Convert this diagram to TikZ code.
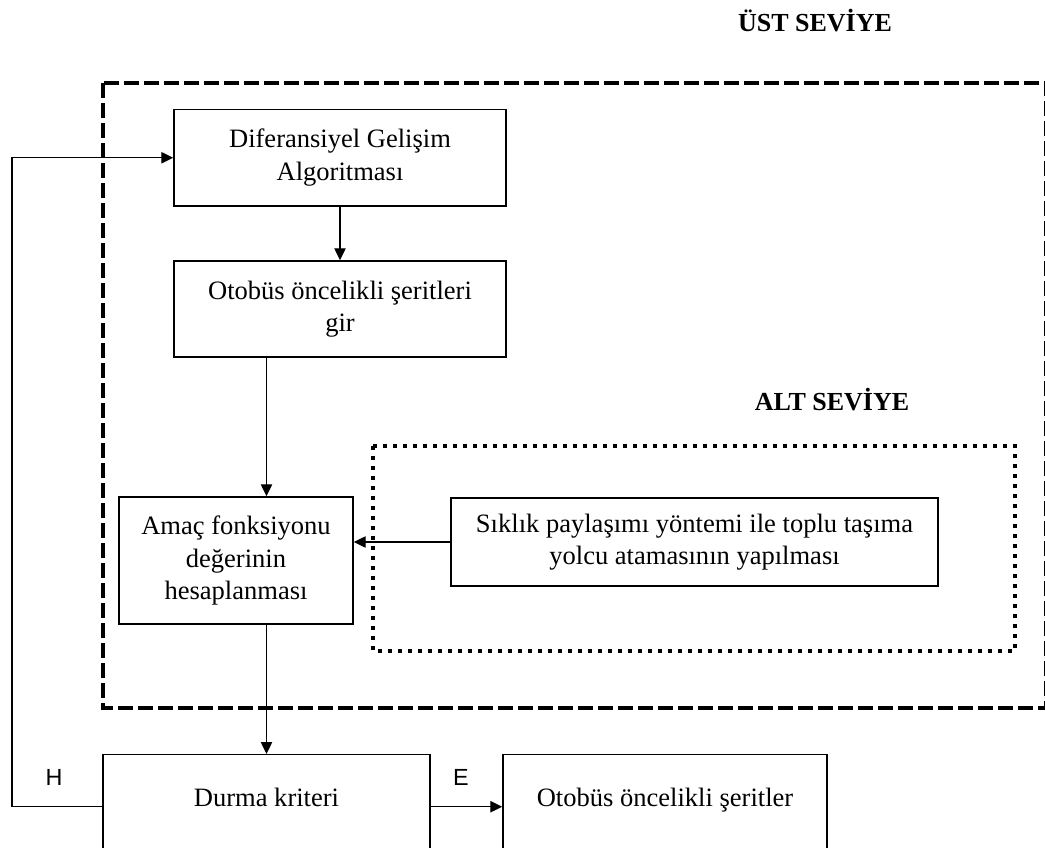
\documentclass[tikz,border=0pt]{standalone}
\usepackage{fontspec}
\setmainfont{Liberation Serif}
\newfontfamily\labelsans{Liberation Sans}
\usetikzlibrary{arrows.meta}
\begin{document}
\begin{tikzpicture}[x=0.75pt,y=-0.75pt,
  bodyfont/.style={font=\fontsize{19.9pt}{24.5pt}\selectfont},
  box/.style={draw, line width=1.1pt, align=center, inner sep=0pt, bodyfont},
  openbox/.style={box, anchor=north, inner ysep=0pt, text height=39pt, text depth=120pt},
  heading/.style={anchor=base, font=\fontsize{19.5pt}{24pt}\selectfont\bfseries},
  branch/.style={anchor=center, font=\fontsize{17.5pt}{21pt}\selectfont\labelsans},
  arr/.style={line width=1pt, -{Triangle[length=9pt,width=8.5pt]}},
  upperframe/.style={line width=3.6pt, dash pattern=on 11.25pt off 3.75pt},
  lowerframe/.style={line width=3.2pt, dash pattern=on 3.2pt off 4.3pt}]
\useasboundingbox (0,0) rectangle (1045,848);
\clip (0,0) rectangle (1045,848);

% level frames
\draw[upperframe] (103,83) rectangle (1046,708);
\draw[lowerframe] (373,446) rectangle (1015,651);
\node[heading] (ust) at (815,32) {ÜST SEVİYE};
\node[heading] (alt) at (832,410) {ALT SEVİYE};

% process boxes
\node[box, minimum width=249pt, minimum height=72.4pt] (de) at (340,157.75)
  {Diferansiyel Gelişim\\Algoritması};
\node[box, minimum width=249pt, minimum height=72pt] (lanes) at (340,309)
  {Otobüs öncelikli şeritleri\\gir};
\node[box, minimum width=175.5pt, minimum height=95.25pt] (obj) at (236,560.5)
  {Amaç fonksiyonu\\değerinin\\hesaplanması};
\node[box, minimum width=365.25pt, minimum height=66pt] (assign) at (694.5,542)
  {Sıklık paylaşımı yöntemi ile toplu taşıma\\yolcu atamasının yapılması};
\node[openbox, minimum width=245.25pt] (stop) at (266.5,754) {Durma kriteri};
\node[openbox, minimum width=243pt] (result) at (665,754) {Otobüs öncelikli şeritler};

% branch labels
\node[branch] (lblH) at (54,777) {H};
\node[branch] (lblE) at (461,777) {E};

% connectors
\coordinate (loopx) at (12,0);
\draw[arr] (de.south) -- (lanes.north);
\draw[arr] (lanes.south -| stop.north) -- (obj.north -| stop.north);
\draw[arr] (assign.west) -- (assign.west -| obj.east);
\draw[arr] (obj.south -| stop.north) -- (stop.north);
\draw[arr] (stop.base east) -- (result.base west);
\draw[arr] (stop.base west) -- (stop.base west -| loopx) |- (de.west);
\end{tikzpicture}
\end{document}
